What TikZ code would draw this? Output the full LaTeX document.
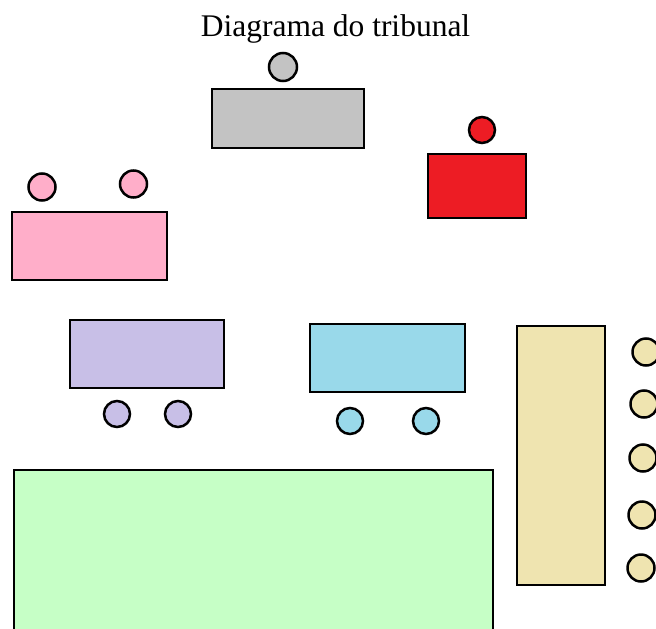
\documentclass[tikz,border=0pt]{standalone}
\usepackage{fontspec}
\setmainfont{Liberation Serif}
\definecolor{cgray}{HTML}{C3C3C3}
\definecolor{cred}{HTML}{ED1C24}
\definecolor{cpink}{HTML}{FFAEC9}
\definecolor{cpurple}{HTML}{C8BFE7}
\definecolor{cblue}{HTML}{99D9EA}
\definecolor{ctan}{HTML}{EFE4B0}
\definecolor{cgreen}{HTML}{C6FFC6}
\begin{document}
\begin{tikzpicture}[x=1pt,y=-1pt,
  piece/.style={draw=black,line width=2.8pt},
  seat/.style={draw=black,line width=2.5pt}]
\useasboundingbox (0,0) rectangle (656,629);
\begin{scope}
\clip (0,0) rectangle (656,629);
\node[font=\fontsize{31.5}{34}\selectfont] (title) at (335.5,28.5) {Diagrama do tribunal};
% judge
\draw[piece,fill=cgray] (212,89) rectangle (364,148);
\draw[seat,fill=cgray] (283,67) circle (14);
% witness
\draw[piece,fill=cred] (428,154) rectangle (526,218);
\draw[seat,fill=cred] (482,130) circle (13);
% pink
\draw[piece,fill=cpink] (12,212) rectangle (167,280);
\draw[seat,fill=cpink] (42,187) circle (13.5);
\draw[seat,fill=cpink] (133.5,184) circle (13.5);
% purple
\draw[piece,fill=cpurple] (70,320) rectangle (224,388);
\draw[seat,fill=cpurple] (117,414) circle (13);
\draw[seat,fill=cpurple] (178,414) circle (13);
% blue
\draw[piece,fill=cblue] (310,324) rectangle (465,392);
\draw[seat,fill=cblue] (350,421) circle (13);
\draw[seat,fill=cblue] (426,421) circle (13);
% jury
\draw[piece,fill=ctan] (517,326) rectangle (605,585);
\draw[seat,fill=ctan] (646,352) circle (13.5);
\draw[seat,fill=ctan] (644,404) circle (13.5);
\draw[seat,fill=ctan] (643,458) circle (13.5);
\draw[seat,fill=ctan] (642,515) circle (13.5);
\draw[seat,fill=ctan] (641,568) circle (13.5);
% public
\draw[piece,fill=cgreen] (14,470) rectangle (493,660);
\end{scope}
\end{tikzpicture}
\end{document}
